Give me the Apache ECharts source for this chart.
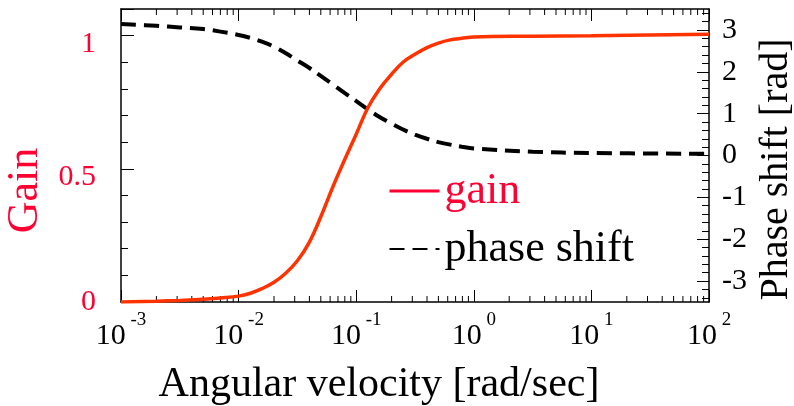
<!DOCTYPE html>
<html>
<head>
<meta charset="utf-8">
<script src="https://cdn.jsdelivr.net/npm/echarts@6/dist/echarts.min.js"></script>
<style>
html, body { margin: 0; padding: 0; background: #fff; }
#main { width: 794px; height: 406px; }
</style>
</head>
<body>
<div id="main"></div>
<script type="text/javascript">
// angular velocity [rad/sec] sample points
var omega = [0.001, 0.002, 0.00316, 0.005, 0.007, 0.01, 0.0126, 0.0158, 0.02, 0.025,
	0.0316, 0.04, 0.05, 0.063, 0.079, 0.1, 0.126, 0.158, 0.2, 0.25,
	0.316, 0.4, 0.5, 0.63, 0.79, 1, 3.16, 10, 100];
var gain = [0.0, 0.003, 0.006, 0.01, 0.015, 0.022, 0.033, 0.05, 0.074, 0.107,
	0.155, 0.225, 0.32, 0.43, 0.53, 0.63, 0.73, 0.80, 0.855, 0.90,
	0.93, 0.955, 0.972, 0.984, 0.99, 0.995, 0.998, 1.0, 1.005];
var phase = [3.14, 3.10, 3.06, 3.02, 2.96, 2.88, 2.81, 2.72, 2.60, 2.45,
	2.27, 2.09, 1.90, 1.70, 1.50, 1.30, 1.10, 0.92, 0.76, 0.62,
	0.50, 0.40, 0.32, 0.26, 0.21, 0.17, 0.09, 0.06, 0.04];
var gainLabels = [0, 0.5, 1];
var phaseLabels = [-3, -2, -1, 0, 1, 2, 3];

var serif = '"Liberation Serif", "DejaVu Serif", serif';
var red = '#ff0033';
var orange = '#ff3300';

// plot box
var L = 121, R = 85, T = 9, B = 104;
var pxPerRad = (406 - T - B) / 7;   // phase axis spans -3.5 .. 3.5

// minor ticks of the log axis: 2..9 in every decade
var minorX = [];
for (var d = -3; d < 2; d++) {
	for (var k = 2; k <= 9; k++) {
		minorX.push([+(k * Math.pow(10, d)).toPrecision(3), 0]);
	}
}

var gainData = [], phaseData = [];
for (var i = 0; i < omega.length; i++) {
	gainData.push([omega[i], gain[i]]);
	phaseData.push([omega[i], phase[i]]);
}

function hiddenX(gridIndex) {
	return { type: 'value', gridIndex: gridIndex, show: false, min: 0, max: 1 };
}

var myChart = echarts.init(document.getElementById('main'));
var option = {
	animation: false,
	grid: [
		{ left: L, right: R, top: T, bottom: B, containLabel: false, outerBoundsMode: 'none' },
		// phase labels and integer ticks: -3 .. 3
		{ left: L, right: R, top: T + 0.5 * pxPerRad, bottom: B + 0.5 * pxPerRad, containLabel: false, outerBoundsMode: 'none' },
		// phase minor ticks: -3.4 .. 3.4 every 0.2
		{ left: L, right: R, top: T + 0.1 * pxPerRad, bottom: B + 0.1 * pxPerRad, containLabel: false, outerBoundsMode: 'none' }
	],
	legend: {
		orient: 'vertical',
		left: 383,
		top: 164,
		itemWidth: 50,
		itemHeight: 14,
		itemGap: 14,
		textStyle: { fontFamily: serif, fontSize: 44, color: '#000' },
		data: [
			{ name: 'gain', itemStyle: { opacity: 0 }, lineStyle: { color: red, width: 3 }, textStyle: { color: red } },
			{ name: 'phase shift', itemStyle: { opacity: 0 } }
		]
	},
	xAxis: [{
		type: 'log',
		logBase: 10,
		min: 0.001,
		max: 100,
		position: 'bottom',
		name: 'Angular velocity [rad/sec]',
		nameLocation: 'middle',
		nameGap: 62,
		nameTextStyle: { fontFamily: serif, fontSize: 42, color: '#000', padding: [0, 72, 0, 0] },
		axisLine: { show: true, onZero: false, lineStyle: { color: '#000', width: 1.5 } },
		axisTick: { show: true, inside: true, length: 12, lineStyle: { color: '#000' } },
		splitLine: { show: false },
		axisLabel: {
			margin: 9,
			formatter: function (v) {
				var e = Math.round(Math.log(v) / Math.LN10);
				return '{b|10}{s| ' + e + '}';
			},
			rich: {
				b: { fontFamily: serif, fontSize: 30, color: '#000', lineHeight: 40, verticalAlign: 'bottom' },
				s: { fontFamily: serif, fontSize: 19, color: '#000', lineHeight: 20, verticalAlign: 'top' }
			}
		}
	}, {
		type: 'log',
		logBase: 10,
		min: 0.001,
		max: 100,
		position: 'top',
		axisLine: { show: true, onZero: false, lineStyle: { color: '#000', width: 1.5 } },
		axisTick: { show: true, inside: true, length: 12, lineStyle: { color: '#000' } },
		axisLabel: { show: false },
		splitLine: { show: false }
	}, hiddenX(1), hiddenX(2)],
	yAxis: [{
		type: 'value',
		min: 0,
		max: 1.1,
		interval: 0.5,
		position: 'left',
		name: 'Gain',
		nameLocation: 'middle',
		nameGap: 74,
		nameTextStyle: { fontFamily: serif, fontSize: 44, color: red, padding: [0, 70, 0, 0] },
		axisLine: { show: true, onZero: false, lineStyle: { color: '#000', width: 1.5 } },
		axisTick: { show: true, inside: true, length: 13, lineStyle: { color: '#000' } },
		minorTick: { show: true, splitNumber: 5, length: 7, lineStyle: { color: '#000' } },
		splitLine: { show: false },
		axisLabel: {
			margin: 25,
			formatter: function (v) {
				var r = +v.toFixed(2);
				if (gainLabels.indexOf(r) < 0) return '';
				return r === 0 ? '{z|0}' : '{n|' + r + '}';
			},
			rich: {
				n: { fontFamily: serif, fontSize: 30, color: red, padding: [16, 0, 0, 0] },
				z: { fontFamily: serif, fontSize: 30, color: red, padding: [0, 0, 0, 0] }
			}
		}
	}, {
		// data axis for phase, only line and name drawn
		type: 'value',
		min: -3.5,
		max: 3.5,
		position: 'right',
		name: 'Phase shift [rad]',
		nameLocation: 'middle',
		nameRotate: 90,
		nameGap: 47,
		nameTextStyle: { fontFamily: serif, fontSize: 40, color: '#000', padding: [0, 28, 0, 0] },
		axisLine: { show: true, onZero: false, lineStyle: { color: '#000', width: 1.5 } },
		axisTick: { show: false },
		axisLabel: { show: false },
		splitLine: { show: false }
	}, {
		type: 'value',
		gridIndex: 1,
		min: -3,
		max: 3,
		interval: 1,
		position: 'right',
		axisLine: { show: false, onZero: false },
		axisTick: { show: true, inside: true, length: 12, lineStyle: { color: '#000' } },
		splitLine: { show: false },
		axisLabel: {
			margin: 13,
			fontFamily: serif,
			fontSize: 30,
			color: '#000',
			formatter: function (v) {
				var r = Math.round(v);
				return phaseLabels.indexOf(r) >= 0 ? String(r) : '';
			}
		}
	}, {
		type: 'value',
		gridIndex: 2,
		min: -3.4,
		max: 3.4,
		interval: 0.2,
		position: 'right',
		axisLine: { show: false, onZero: false },
		axisTick: { show: true, inside: true, length: 7, lineStyle: { color: '#000' } },
		axisLabel: { show: false },
		splitLine: { show: false }
	}],
	series: [{
		name: 'gain',
		type: 'line',
		xAxisIndex: 0,
		yAxisIndex: 0,
		data: gainData,
		symbol: 'none',
		smooth: 0.4,
		lineStyle: { color: orange, width: 3.5 },
		itemStyle: { color: orange },
		z: 3
	}, {
		name: 'phase shift',
		type: 'line',
		xAxisIndex: 0,
		yAxisIndex: 1,
		data: phaseData,
		symbol: 'none',
		smooth: 0.4,
		lineStyle: { color: '#000', width: 4, type: [15, 8] },
		itemStyle: { color: '#000' },
		z: 2
	}, {
		name: 'minorTicks',
		type: 'custom',
		xAxisIndex: 0,
		yAxisIndex: 0,
		silent: true,
		clip: false,
		data: minorX,
		renderItem: function (params, api) {
			var p = api.coord([api.value(0), 0]);
			var cs = params.coordSys;
			var top = cs.y, bottom = cs.y + cs.height;
			return {
				type: 'group',
				children: [{
					type: 'line',
					shape: { x1: p[0], y1: bottom, x2: p[0], y2: bottom - 6 },
					style: { stroke: '#000', lineWidth: 1 }
				}, {
					type: 'line',
					shape: { x1: p[0], y1: top, x2: p[0], y2: top + 6 },
					style: { stroke: '#000', lineWidth: 1 }
				}]
			};
		}
	}]
};
myChart.setOption(option);
</script>
</body>
</html>
